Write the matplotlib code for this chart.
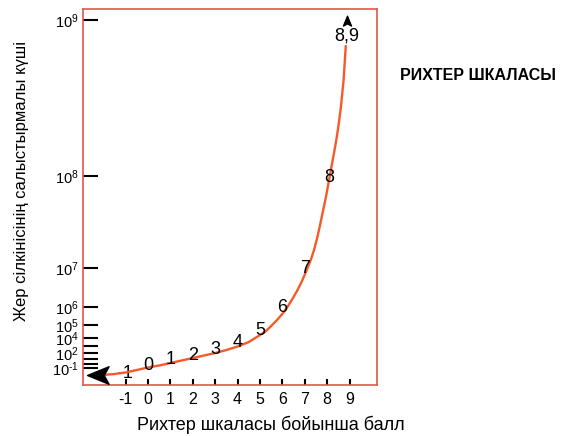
import numpy as np
import matplotlib
matplotlib.use('Agg')
import matplotlib.pyplot as plt
import matplotlib.transforms as mtransforms
from matplotlib.path import Path

plt.rcParams['font.family'] = ['Liberation Sans', 'DejaVu Sans']
plt.rcParams['mathtext.fontset'] = 'custom'
plt.rcParams['mathtext.rm'] = 'Liberation Sans'
plt.rcParams['mathtext.it'] = 'Liberation Sans'

# ----------------------------------------------------------------------
#   Data
# ----------------------------------------------------------------------

# schematic curve: magnitude vs drawn height
curve_r = [-2.0, -1.5, -1.0, -0.5, 0.0, 0.5, 1.0, 1.5, 2.0, 2.5, 3.0, 3.5,
           4.0, 4.5, 5.0, 5.27, 5.54, 5.8, 6.03, 6.25, 6.47, 6.65, 6.83,
           7.01, 7.14, 7.28, 7.41, 7.55, 7.68, 7.81, 7.95, 8.08, 8.21, 8.35,
           8.44, 8.53, 8.62, 8.68, 8.73, 8.77, 8.81, 8.83]
curve_h = [10, 11, 12.5, 15, 17.5, 19.5, 22, 24.5, 27, 29.5, 32, 35,
           38.5, 43, 50, 54, 60, 66, 72, 79, 87, 94, 102,
           111, 118, 126, 135, 147, 160, 174, 189, 205, 221, 238,
           250, 264, 280, 294, 305, 319, 333, 340]

# labels written along the curve
mag_text = ['-1', '0', '1', '2', '3', '4', '5', '6', '7', '8']
mag_r    = [-1, 0, 1, 2, 3, 4, 5, 6, 7, 8.08]
mag_h    = [11, 19, 25, 30, 36, 43, 55, 78, 117, 208]
end_text = '8,9'

# x axis
x_ticks  = [-1, 0, 1, 2, 3, 4, 5, 6, 7, 8, 9]
x_labels = ['-1', '0', '1', '2', '3', '4', '5', '6', '7', '8', '9']

# y axis (schematic, not to scale)
y_ticks  = [17, 21, 26, 32, 39, 47, 60, 78, 117, 209, 365]
y_labels = [r'$\mathregular{10^{‐1}}$', '', '', r'$\mathregular{10^{2}}$', '',
            r'$\mathregular{10^{4}}$', r'$\mathregular{10^{5}}$',
            r'$\mathregular{10^{6}}$', r'$\mathregular{10^{7}}$',
            r'$\mathregular{10^{8}}$', r'$\mathregular{10^{9}}$']

# ----------------------------------------------------------------------
#   Plot
# ----------------------------------------------------------------------

red    = '#e2574c'
orange = '#f45a2a'

fig = plt.figure(figsize=(5.71, 4.36), dpi=100)
ax = fig.add_axes([0.1454, 0.117, 0.5148, 0.862])

ax.plot(curve_r, curve_h, color=orange, lw=1.7, zorder=3,
        solid_capstyle='butt', solid_joinstyle='round')

# notched arrow heads
left_head = Path([(-1, 0), (0.35, 0.55), (0.05, 0), (0.35, -0.55), (-1, 0)],
                 [Path.MOVETO, Path.LINETO, Path.LINETO, Path.LINETO,
                  Path.CLOSEPOLY])
up_head = Path([(0, 1), (0.55, -0.35), (0, -0.05), (-0.55, -0.35), (0, 1)],
               [Path.MOVETO, Path.LINETO, Path.LINETO, Path.LINETO,
                Path.CLOSEPOLY])

ax.plot(curve_r[0], curve_h[0], marker=left_head, ms=23, color='k',
        mec='k', zorder=4)
up_tr = mtransforms.offset_copy(ax.transData, fig=fig, x=1.0, y=16.0,
                                units='points')
ax.plot(curve_r[-1], curve_h[-1], marker=up_head, ms=10.5, color='k',
        mec='k', transform=up_tr, zorder=4)

for txt, r, h in zip(mag_text, mag_r, mag_h):
    ax.text(r, h, txt, ha='center', va='center', fontsize=13,
            zorder=2 if txt == '-1' else 5)
ax.annotate(end_text, (curve_r[-1], curve_h[-1]), xytext=(1.0, 6.5),
            textcoords='offset points', ha='center', va='center',
            fontsize=13)

ax.set_xlim(-2.9, 10.22)
ax.set_ylim(0, 376)

ax.set_xticks(x_ticks)
ax.set_xticklabels(x_labels)
ax.set_yticks(y_ticks)
ax.set_yticklabels(y_labels)

ax.tick_params(axis='x', direction='in', length=4.5, width=1.5, color='k',
               pad=5, labelsize=11.5)
ax.tick_params(axis='y', direction='in', length=11, width=1.5, color='k',
               pad=3, labelsize=10.5)

for sp in ax.spines.values():
    sp.set_color(red)
    sp.set_linewidth(1.2)

fig.text(22/571., 1 - 181/436., 'Жер сілкінісінің салыстырмалы күші',
         rotation=90, ha='center', va='center', fontsize=12)
fig.text(271/571., 1 - 425/436., 'Рихтер шкаласы бойынша балл',
         ha='center', va='center', fontsize=13)
fig.text(478/571., 1 - 75/436., 'РИХТЕР ШКАЛАСЫ',
         ha='center', va='center', fontsize=11.5, fontweight='bold')

plt.savefig('out.png', dpi=100)
plt.close()
